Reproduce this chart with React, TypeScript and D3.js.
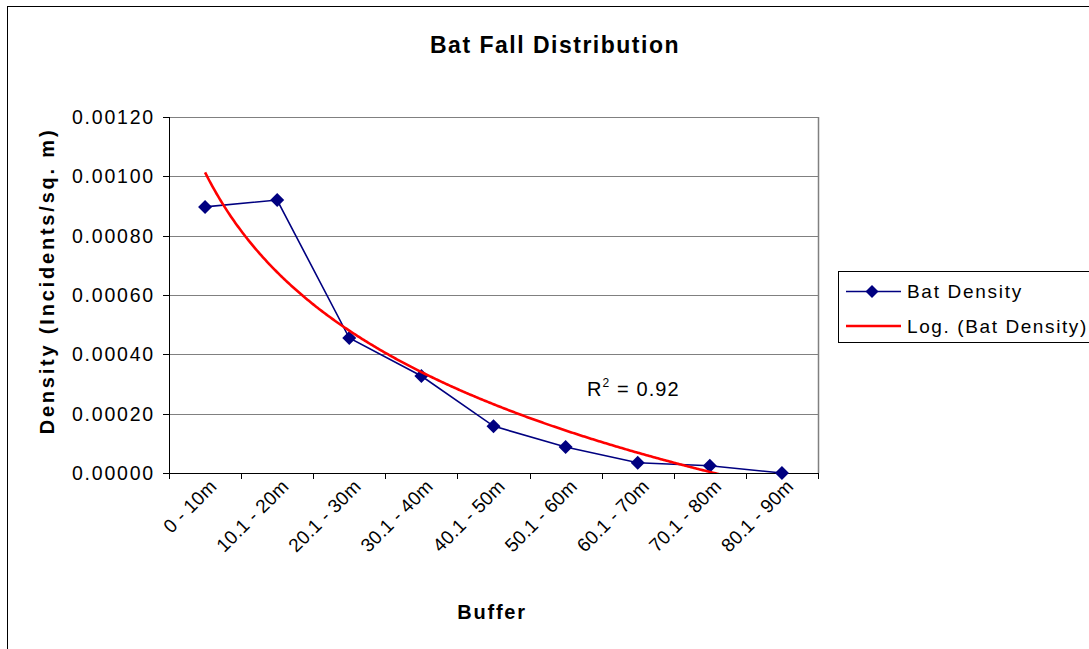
import React from "react";
import * as d3 from "d3";

const categories = ["0 - 10m", "10.1 - 20m", "20.1 - 30m", "30.1 - 40m", "40.1 - 50m", "50.1 - 60m", "60.1 - 70m", "70.1 - 80m", "80.1 - 90m"];
const batDensity = [0.000897, 0.00092, 0.000455, 0.000327, 0.000158, 0.0000876, 0.0000345, 0.0000246, 0.0];
const yTicks = [0, 0.0002, 0.0004, 0.0006, 0.0008, 0.001, 0.0012];
const title = "Bat Fall Distribution";
const yTitle = "Density (Incidents/sq. m)";
const xTitle = "Buffer";
const legendLabels = ["Bat Density", "Log. (Bat Density)"];

const W = 1089, H = 649;
const plot = { left: 169, right: 818, top: 117, bottom: 473 };
const FONT = "Arial, 'Liberation Sans', sans-serif";

// Excel-style logarithmic trendline: y = a*ln(x) + b (least squares)
function logFit(ys: number[]) {
  const xs = ys.map((_, i) => Math.log(i + 1));
  const mx = d3.mean(xs) as number;
  const my = d3.mean(ys) as number;
  let sxy = 0, sxx = 0, syy = 0;
  xs.forEach((x, i) => { sxy += (x - mx) * (ys[i] - my); sxx += (x - mx) ** 2; syy += (ys[i] - my) ** 2; });
  const a = sxy / sxx;
  const b = my - a * mx;
  const r2 = (a * a * sxx) / syy;
  return { a, b, r2 };
}

export default function App() {
  const x = d3.scaleBand<string>().domain(categories).range([plot.left, plot.right]).padding(0);
  const y = d3.scaleLinear().domain([0, 0.0012]).range([plot.bottom, plot.top]);
  const cx = (i: number) => (x(categories[i]) as number) + x.bandwidth() / 2;
  const fmt = d3.format(".5f");

  const fit = logFit(batDensity);
  const idx = d3.scaleLinear().domain([1, categories.length]).range([cx(0), cx(categories.length - 1)]);
  const trendPts = d3.range(1, categories.length + 0.0001, 0.02).map((t) => [idx(t), y(fit.a * Math.log(t) + fit.b)] as [number, number]);
  const trendLine = d3.line()(trendPts) as string;
  const dataLine = d3.line()(batDensity.map((v, i) => [cx(i), y(v)] as [number, number])) as string;

  const boundaries = d3.range(categories.length + 1).map((i) => plot.left + i * x.bandwidth());
  const diamond = (px: number, py: number, r = 7) => `M${px},${py - r}L${px + r},${py}L${px},${py + r}L${px - r},${py}Z`;

  return (
    <svg width={W} height={H} style={{ position: "absolute", left: 0, top: 0, background: "#fff" }} fontFamily={FONT}>
      <defs>
        <clipPath id="plotClip">
          <rect x={plot.left} y={plot.top} width={plot.right - plot.left} height={plot.bottom - plot.top} />
        </clipPath>
      </defs>
      <rect x={0} y={0} width={W} height={H} fill="#fff" />
      {/* chart area border */}
      <rect x={7.5} y={6.5} width={W + 20} height={H + 20} fill="none" stroke="#000" strokeWidth={1} />

      {/* title */}
      <text x={555} y={53} textAnchor="middle" fontSize={23} fontWeight="bold" letterSpacing={1.5}>{title}</text>

      {/* gridlines */}
      {yTicks.map((t) => (
        <line key={t} x1={plot.left} x2={plot.right} y1={Math.round(y(t)) + 0.5} y2={Math.round(y(t)) + 0.5} stroke="#808080" strokeWidth={1} />
      ))}
      <line x1={plot.right + 0.5} x2={plot.right + 0.5} y1={plot.top} y2={plot.bottom} stroke="#808080" strokeWidth={1.5} />

      {/* axes */}
      <line x1={plot.left + 0.5} x2={plot.left + 0.5} y1={plot.top} y2={plot.bottom + 0.5} stroke="#000" strokeWidth={1} />
      <line x1={plot.left} x2={plot.right + 1} y1={plot.bottom + 0.5} y2={plot.bottom + 0.5} stroke="#000" strokeWidth={1} />
      {yTicks.map((t) => (
        <g key={"yt" + t}>
          <line x1={plot.left - 6} x2={plot.left} y1={Math.round(y(t)) + 0.5} y2={Math.round(y(t)) + 0.5} stroke="#000" />
          <text x={155} y={y(t)} dy="0.36em" textAnchor="end" fontSize={19.5} letterSpacing={1.8}>{fmt(t)}</text>
        </g>
      ))}
      {boundaries.map((b, i) => (
        <line key={"xt" + i} x1={Math.round(b) + 0.5} x2={Math.round(b) + 0.5} y1={plot.bottom} y2={plot.bottom + 6} stroke="#000" />
      ))}
      {categories.map((c, i) => (
        <text key={c} transform={`translate(${cx(i) + 8},${plot.bottom + 10}) rotate(-45)`} textAnchor="end" fontSize={19} letterSpacing={0.2} dy="0.35em">{c}</text>
      ))}

      {/* axis titles */}
      <text transform={`translate(54,281) rotate(-90)`} textAnchor="middle" fontSize={20} fontWeight="bold" letterSpacing={2.8}>{yTitle}</text>
      <text x={492} y={619} textAnchor="middle" fontSize={20} fontWeight="bold" letterSpacing={1.8}>{xTitle}</text>

      {/* series */}
      <path d={dataLine} fill="none" stroke="#000080" strokeWidth={1.6} />
      {batDensity.map((v, i) => (
        <path key={"m" + i} d={diamond(cx(i), y(v))} fill="#000080" />
      ))}
      <g clipPath="url(#plotClip)">
        <path d={trendLine} fill="none" stroke="#ff0000" strokeWidth={2.6} />
      </g>

      {/* R squared */}
      <text x={587} y={396} fontSize={20} letterSpacing={1.1}>
        R<tspan fontSize={12} dy={-9}>2</tspan><tspan dy={9}> = {fit.r2.toFixed(2)}</tspan>
      </text>

      {/* legend */}
      <rect x={838.5} y={271.5} width={300} height={71} fill="#fff" stroke="#000" strokeWidth={1} />
      <line x1={846} x2={901} y1={291.5} y2={291.5} stroke="#000080" strokeWidth={1.6} />
      <path d={diamond(872, 291.5, 6.5)} fill="#000080" />
      <text x={907} y={291} dy="0.36em" fontSize={19} letterSpacing={1.7}>{legendLabels[0]}</text>
      <line x1={846} x2={901} y1={326} y2={326} stroke="#ff0000" strokeWidth={2.6} />
      <text x={907} y={326} dy="0.36em" fontSize={19} letterSpacing={1.6}>{legendLabels[1]}</text>
    </svg>
  );
}
